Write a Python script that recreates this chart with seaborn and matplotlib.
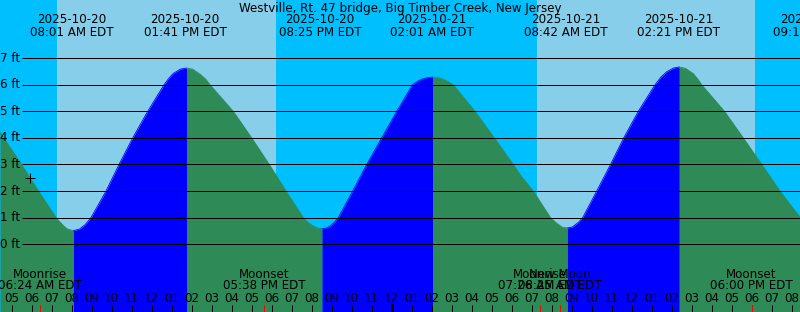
import numpy as np
import pandas as pd
import matplotlib
matplotlib.use("Agg")
import matplotlib.pyplot as plt
import seaborn as sns

# ---------------- data (hours since 2025-10-20 00:00 EDT, heights in ft) -------------
title = "Westville, Rt. 47 bridge, Big Timber Creek, New Jersey"

curve_hours = [4.425, 5.500, 5.925, 6.350, 7.225, 7.590, 7.800, 8.100, 8.400, 8.675,
               8.975, 9.725, 10.375, 11.060, 11.810, 12.625, 12.850, 13.090, 13.450,
               13.750, 14.050, 14.425, 14.700, 14.925, 16.090, 17.010, 17.890, 18.725,
               19.590, 19.850, 20.090, 20.300, 20.525, 20.750, 20.925, 21.150, 21.340,
               22.060, 22.760, 23.510, 24.260, 25.050, 25.280, 25.510, 25.800, 26.060,
               26.320, 26.590, 26.850, 27.090, 28.175, 29.140, 30.090, 30.425, 31.090,
               31.950, 32.260, 32.520, 32.790, 33.050, 33.340, 33.560, 34.260, 34.950,
               35.610, 36.340, 37.175, 37.470, 37.760, 38.100, 38.390, 38.700, 39.090,
               39.300, 39.510, 40.650, 41.590, 42.510, 43.425, 44.425]
curve_ft = [4.21, 3.00, 2.50, 2.00, 1.00, 0.70, 0.57, 0.51, 0.57, 0.73,
            1.00, 2.00, 3.00, 4.00, 5.00, 6.00, 6.23, 6.43, 6.59,
            6.63, 6.59, 6.40, 6.22, 6.00, 5.00, 4.00, 3.00, 2.00,
            1.00, 0.80, 0.69, 0.61, 0.58, 0.61, 0.68, 0.83, 1.00,
            2.00, 3.00, 4.00, 5.00, 6.00, 6.12, 6.21, 6.27, 6.29,
            6.27, 6.21, 6.11, 6.00, 5.00, 4.00, 3.00, 2.62, 2.00,
            1.00, 0.79, 0.65, 0.61, 0.65, 0.82, 1.00, 2.00, 3.00,
            4.00, 5.00, 6.00, 6.29, 6.49, 6.63, 6.67, 6.62, 6.42,
            6.23, 6.00, 5.00, 4.00, 3.00, 2.00, 1.01]

tide_hours = [8.017, 13.683, 20.417, 26.017, 32.700, 38.350, 45.167]
tide_dates = ["2025-10-20", "2025-10-20", "2025-10-20", "2025-10-21",
              "2025-10-21", "2025-10-21", "2025-10-21"]
tide_times = ["08:01 AM EDT", "01:41 PM EDT", "08:25 PM EDT", "02:01 AM EDT",
              "08:42 AM EDT", "02:21 PM EDT", "09:10 PM EDT"]

moon_hours = [6.400, 17.633, 31.433, 32.417, 42.000]
moon_names = ["Moonrise", "Moonset", "Moonrise", "New Moon", "Moonset"]
moon_times = ["06:24 AM EDT", "05:38 PM EDT", "07:26 AM EDT", "08:25 AM EDT", "06:00 PM EDT"]

day_start = [7.275, 31.275]
day_end = [18.225, 42.175]

hour_ticks = list(range(5, 45))
hour_labels = ["05", "06", "07", "08", "09", "10", "11", "12", "01", "02",
               "03", "04", "05", "06", "07", "08", "09", "10", "11", "12",
               "01", "02", "03", "04", "05", "06", "07", "08", "09", "10",
               "11", "12", "01", "02", "03", "04", "05", "06", "07", "08"]
midnight_hour = 24

ft_levels = [0, 1, 2, 3, 4, 5, 6, 7]
ft_labels = ["0 ft", "1 ft", "2 ft", "3 ft", "4 ft", "5 ft", "6 ft", "7 ft"]

now_hour, now_ft = 5.925, 2.50

# ---------------- layout helpers (pixel -> data) -------------------------------------
def hx(px):
    return 4.425 + px / 20.0

def fy(py):
    return (244.2 - py) / 26.57

PX = 0.72  # one pixel in points at 100 dpi
C_NIGHT, C_DAY = "#00BFFF", "#87CEEB"
C_RISE, C_FALL = "#0000FF", "#2E8B57"

sns.set_theme(style="white")
plt.rcParams["font.family"] = ["DejaVu Sans"]
plt.rcParams["text.color"] = "black"
FS = 8.6
TXT = dict(fontsize=FS, color="black", zorder=3)

fig = plt.figure(figsize=(8, 3.12), dpi=100)
fig.patch.set_facecolor(C_NIGHT)
ax = fig.add_axes([0, 0, 1, 1])
ax.set_facecolor(C_NIGHT)
ax.set_xlim(hx(0), hx(800))
ax.set_ylim(fy(312), fy(0))
ax.set_xticks([])
ax.set_yticks([])
for s in ax.spines.values():
    s.set_visible(False)

# background day / night
ax.axvspan(hx(-10), hx(810), color=C_NIGHT, lw=0, zorder=0)
for a, b in zip(day_start, day_end):
    ax.axvspan(a, b, color=C_DAY, lw=0, zorder=0.5)

# split curve into rising / falling segments at local extrema
t = np.array(curve_hours)
h = np.array(curve_ft)
ext = [0] + [i for i in range(1, len(h) - 1)
             if (h[i] - h[i - 1]) * (h[i + 1] - h[i]) < 0] + [len(h) - 1]
rows = []
bottom = fy(312)
for k in range(len(ext) - 1):
    i0, i1 = ext[k], ext[k + 1]
    ts, hs = t[i0:i1 + 1], h[i0:i1 + 1]
    phase = "rising" if hs[-1] > hs[0] else "falling"
    col = C_RISE if phase == "rising" else C_FALL
    ax.fill_between(ts, bottom, hs, color=col, lw=0, zorder=1)
    for tt, hh in zip(ts, hs):
        rows.append({"hour": tt, "ft": hh, "phase": phase, "seg": k})
df = pd.DataFrame(rows)
sns.lineplot(data=df, x="hour", y="ft", hue="phase", units="seg", estimator=None,
             palette={"rising": C_RISE, "falling": C_FALL}, lw=0.6, legend=False,
             ax=ax, zorder=1.5)
ax.set_xlabel("")
ax.set_ylabel("")

# height grid lines and labels
ax.hlines(ft_levels, hx(22), hx(800), color="black", lw=PX, zorder=2)
for lv, lab in zip(ft_levels, ft_labels):
    ax.text(hx(20.5), lv, lab, ha="right", va="center", **TXT)

# current time marker
ax.plot([now_hour], [now_ft], marker="+", color="black", ms=6.5, mew=PX, zorder=3)

# title
ax.text(hx(400.5), fy(11.7), title, ha="center", va="baseline", **TXT)

# tide event labels
for th, d, tm in zip(tide_hours, tide_dates, tide_times):
    ax.text(th, fy(23.3), d, ha="center", va="baseline", **TXT)
    ax.text(th, fy(36.0), tm, ha="center", va="baseline", **TXT)

# moon event labels
for mh, nm, tm in zip(moon_hours, moon_names, moon_times):
    ax.text(mh, fy(278.3), nm, ha="center", va="baseline", **TXT)
    ax.text(mh, fy(289.3), tm, ha="center", va="baseline", **TXT)

# hour labels and ticks
for hr, lab in zip(hour_ticks, hour_labels):
    ax.text(hr, fy(302.3), lab, ha="center", va="baseline", **TXT)
normal = [hr for hr in hour_ticks if hr != midnight_hour]
ax.vlines(normal, fy(312), fy(304.5), color="black", lw=PX, zorder=3)
ax.vlines([midnight_hour], fy(312), fy(303), color="black", lw=3 * PX, zorder=3)
ax.vlines(moon_hours, fy(312), fy(304.5), color="red", lw=PX, zorder=3.5)

fig.savefig("out.png", dpi=100, facecolor=fig.get_facecolor())
